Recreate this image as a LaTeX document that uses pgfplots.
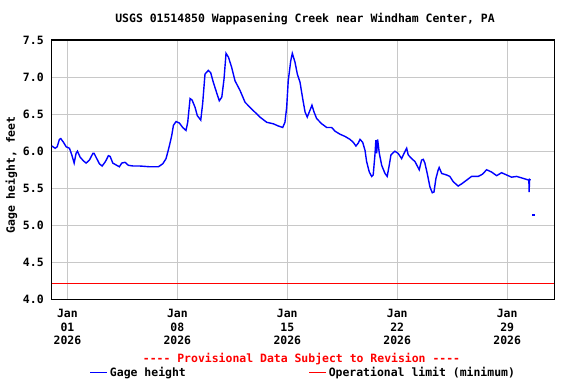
\documentclass[border=0pt]{standalone}
\usepackage{pgfplots}
\pgfplotsset{compat=1.18}
\usepackage{fontspec}
\setmainfont{DejaVu Sans Mono}[Ligatures=TeXOff]
\definecolor{usgsblue}{RGB}{0,0,255}
\definecolor{usgsred}{RGB}{255,0,0}
\definecolor{gridgray}{RGB}{200,200,200}
\begin{document}
\bfseries\fontsize{11.5}{13.3}\selectfont
\begin{tikzpicture}
\path[use as bounding box] (0,0) rectangle (576bp,384bp);
\begin{axis}[
  at={(51.7bp,84.5bp)}, anchor=south west,
  scale only axis, width=502.6bp, height=259.5bp,
  xmin=-1, xmax=31, ymin=4, ymax=7.5,
  axis line style={black, line width=1.1bp},
  grid=major, major grid style={gridgray, line width=0.9bp},
  major tick length=0pt,
  xtick={0,7,14,21,28},
  xticklabels={{Jan\\01\\2026},{Jan\\08\\2026},{Jan\\15\\2026},{Jan\\22\\2026},{Jan\\29\\2026}},
  xticklabel style={align=center, yshift=-6bp, font=\bfseries\fontsize{11.5}{13.3}\selectfont},
  ytick={4,4.5,5,5.5,6,6.5,7,7.5},
  yticklabel style={xshift=-4bp, font=\bfseries\fontsize{11.5}{13.3}\selectfont,
    /pgf/number format/fixed, /pgf/number format/fixed zerofill, /pgf/number format/precision=1},
  /pgf/number format/assume math mode=true,
  legend columns=2,
  legend style={at={(0.075,-0.2805)}, anchor=west, draw=none, fill=none, inner sep=0pt,
    font=\bfseries\fontsize{11.5}{13.3}\selectfont,
    /tikz/every even column/.append style={column sep=121bp}},
  legend cell align=left,
]
\addplot[usgsblue, line width=1.4bp] coordinates {
(-0.99,6.07) (-0.78,6.04) (-0.65,6.06) (-0.51,6.16) (-0.42,6.17) (-0.25,6.12) (-0.08,6.06)
(0.13,6.04) (0.28,5.95) (0.43,5.84) (0.55,5.97) (0.64,6.00) (0.81,5.92) (1.02,5.87)
(1.19,5.84) (1.40,5.88) (1.62,5.97) (1.70,5.97) (1.87,5.90) (2.04,5.83) (2.21,5.80)
(2.42,5.86) (2.61,5.94) (2.72,5.93) (2.89,5.84) (3.14,5.81) (3.31,5.79) (3.46,5.84)
(3.67,5.85) (3.88,5.81) (4.20,5.80) (4.63,5.80) (5.26,5.79) (5.79,5.79) (6.07,5.83)
(6.28,5.90) (6.49,6.07) (6.64,6.21) (6.75,6.35) (6.92,6.40) (7.13,6.38) (7.34,6.32)
(7.55,6.28) (7.66,6.39) (7.81,6.71) (7.94,6.69) (8.13,6.59) (8.27,6.48) (8.49,6.42)
(8.61,6.64) (8.76,7.04) (8.97,7.09) (9.12,7.06) (9.29,6.93) (9.50,6.79) (9.67,6.68)
(9.83,6.73) (9.97,6.97) (10.10,7.32) (10.25,7.27) (10.46,7.13) (10.67,6.95) (10.99,6.82)
(11.31,6.66) (11.73,6.57) (12.26,6.46) (12.69,6.39) (13.11,6.37) (13.43,6.34) (13.71,6.32)
(13.85,6.39) (13.96,6.59) (14.06,6.95) (14.22,7.22) (14.32,7.32) (14.49,7.20) (14.64,7.04)
(14.81,6.93) (14.98,6.71) (15.13,6.53) (15.27,6.46) (15.44,6.55) (15.57,6.62) (15.70,6.53)
(15.87,6.44) (16.19,6.37) (16.51,6.32) (16.83,6.32) (17.04,6.27) (17.35,6.23) (17.67,6.20)
(17.99,6.16) (18.20,6.12) (18.37,6.07) (18.52,6.11) (18.63,6.16) (18.80,6.12) (18.95,6.01)
(19.05,5.86) (19.22,5.72) (19.37,5.66) (19.47,5.68) (19.58,5.95) (19.64,6.15) (19.69,5.97)
(19.75,6.16) (19.86,5.97) (20.01,5.81) (20.22,5.70) (20.36,5.66) (20.49,5.81) (20.60,5.95)
(20.74,5.98) (20.85,6.00) (21.06,5.97) (21.28,5.90) (21.43,5.97) (21.60,6.04) (21.70,5.95)
(21.92,5.90) (22.13,5.86) (22.40,5.75) (22.55,5.88) (22.66,5.89) (22.76,5.84) (22.91,5.70)
(23.08,5.52) (23.23,5.44) (23.34,5.45) (23.46,5.63) (23.61,5.75) (23.67,5.78) (23.83,5.70)
(24.14,5.68) (24.35,5.66) (24.56,5.59) (24.88,5.53) (25.10,5.56) (25.42,5.61) (25.73,5.66)
(26.15,5.66) (26.43,5.69) (26.69,5.75) (27.00,5.72) (27.33,5.67) (27.64,5.71) (27.96,5.68)
(28.28,5.65) (28.60,5.66) (28.92,5.64) (29.23,5.62) (29.38,5.61) (29.40,5.45) (29.42,5.62)
(29.49,5.61)
};
\addlegendentry{Gage height}
\addplot[usgsred, line width=0.9bp] coordinates {(-1,4.22) (31,4.22)};
\addlegendentry{Operational limit (minimum)}
\addplot[forget plot, only marks, mark=square*, mark size=0.6bp, usgsblue] coordinates {(29.66,5.14)};
\end{axis}
\node at (305bp,365bp) {USGS 01514850 Wappasening Creek near Windham Center, PA};
\node[rotate=90] at (11.5bp,209bp) {Gage height, feet};
\node[text=usgsred] at (301.5bp,25bp) {---- Provisional Data Subject to Revision ----};
\end{tikzpicture}
\end{document}
